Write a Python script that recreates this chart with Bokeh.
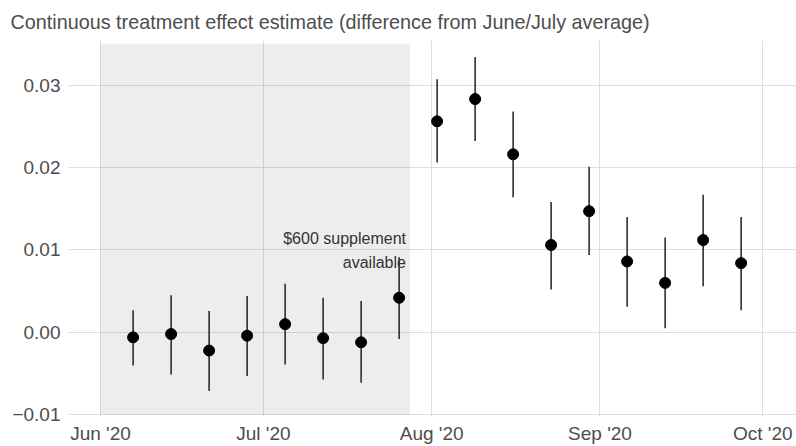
from datetime import datetime
from bokeh.plotting import figure
from bokeh.models import (FixedTicker, DatetimeTickFormatter, CustomJSTickFormatter,
                          Range1d, ColumnDataSource)
from bokeh.embed import file_html
from bokeh.resources import INLINE
from bokeh.core.properties import value

# ---- data ----
week_dates = ["2020-06-07", "2020-06-14", "2020-06-21", "2020-06-28", "2020-07-05",
              "2020-07-12", "2020-07-19", "2020-07-26", "2020-08-02", "2020-08-09",
              "2020-08-16", "2020-08-23", "2020-08-30", "2020-09-06", "2020-09-13",
              "2020-09-20", "2020-09-27"]
estimate = [-0.0006, -0.0002, -0.0022, -0.0004, 0.0010, -0.0007, -0.0012, 0.0042,
            0.0256, 0.0283, 0.0216, 0.0106, 0.0147, 0.0086, 0.0060, 0.0112, 0.0084]
ci_low = [-0.0040, -0.0051, -0.0071, -0.0053, -0.0039, -0.0057, -0.0061, -0.0008,
          0.0206, 0.0232, 0.0164, 0.0052, 0.0094, 0.0031, 0.0005, 0.0056, 0.0027]
ci_high = [0.0027, 0.0045, 0.0026, 0.0044, 0.0059, 0.0042, 0.0038, 0.0091,
           0.0307, 0.0334, 0.0268, 0.0158, 0.0201, 0.0140, 0.0115, 0.0167, 0.0140]

month_ticks = ["2020-06-01", "2020-07-01", "2020-08-01", "2020-09-01", "2020-10-01"]
y_ticks = [-0.01, 0.00, 0.01, 0.02, 0.03]

shade_start = "2020-06-01"
shade_end = "2020-07-28"
shade_bottom = -0.01
shade_top = 0.035
annotation_text = "$600 supplement\navailable"
annotation_y = 0.0099

title_text = "Continuous treatment effect estimate (difference from June/July average)"

def to_dt(s):
    return datetime.strptime(s, "%Y-%m-%d")

def to_ms(s):
    return (to_dt(s) - datetime(1970, 1, 1)).total_seconds() * 1000.0

DAY = 86400000.0

src = ColumnDataSource(dict(x=[to_dt(d) for d in week_dates], y=estimate,
                            lo=ci_low, hi=ci_high))

x0 = to_ms("2020-06-01")
p = figure(width=796, height=446, x_axis_type="datetime",
           output_backend="svg", toolbar_location=None,
           x_range=Range1d(x0 - 5.9 * DAY, x0 + 128.2 * DAY),
           y_range=Range1d(-0.0102, 0.0354),
           min_border_left=68, min_border_right=0, min_border_top=39, min_border_bottom=28)

p.title.text = title_text
p.title.align = "left"
p.title.offset = -58
p.title.text_font = "Liberation Sans"
p.title.text_font_size = "19.8px"
p.title.text_font_style = "normal"
p.title.text_color = "#4d4d4d"
p.title.standoff = 16

p.outline_line_color = None
p.background_fill_color = "white"
p.border_fill_color = "white"

# shaded pre-period
p.quad(left=[to_dt(shade_start)], right=[to_dt(shade_end)],
       bottom=[shade_bottom], top=[shade_top],
       fill_color="black", fill_alpha=0.07, line_color=None)

# error bars and points
p.segment(x0="x", y0="lo", x1="x", y1="hi", source=src, line_color="#111111", line_width=1.4)
p.scatter(x="x", y="y", source=src, size=11, fill_color="black", line_color="black")

# annotation
p.text(x=[to_dt(shade_end)], y=[annotation_y], text=[annotation_text],
       text_align="right", text_baseline="middle", x_offset=-4,
       text_font=value("Liberation Sans"), text_font_size="16px",
       text_color="#333333", text_line_height=1.42)

# axes
p.xaxis.ticker = FixedTicker(ticks=[to_ms(m) for m in month_ticks])
fmt = "%b '%y"
p.xaxis.formatter = DatetimeTickFormatter(milliseconds=fmt, seconds=fmt, minsec=fmt,
                                          minutes=fmt, hourmin=fmt, hours=fmt, days=fmt,
                                          months=fmt, years=fmt)
p.yaxis.ticker = FixedTicker(ticks=y_ticks)
p.yaxis.formatter = CustomJSTickFormatter(
    code="return tick < 0 ? '\u2212' + Math.abs(tick).toFixed(2) : tick.toFixed(2);")

for ax in (p.xaxis[0], p.yaxis[0]):
    ax.axis_line_color = None
    ax.major_tick_line_color = None
    ax.minor_tick_line_color = None
    ax.major_tick_out = 0
    ax.major_tick_in = 0
    ax.minor_tick_out = 0
    ax.minor_tick_in = 0
    ax.axis_label_standoff = 0
    ax.major_label_text_font = "Liberation Sans"
    ax.major_label_text_font_size = "19px"
    ax.major_label_text_color = "#4d4d4d"
p.xaxis.major_label_standoff = 6
p.yaxis.major_label_standoff = 8

p.xgrid.grid_line_color = "#dedede"
p.ygrid.grid_line_color = "#dedede"
p.xgrid.grid_line_width = 1
p.ygrid.grid_line_width = 1

open("out.html", "w").write(file_html(p, INLINE))
